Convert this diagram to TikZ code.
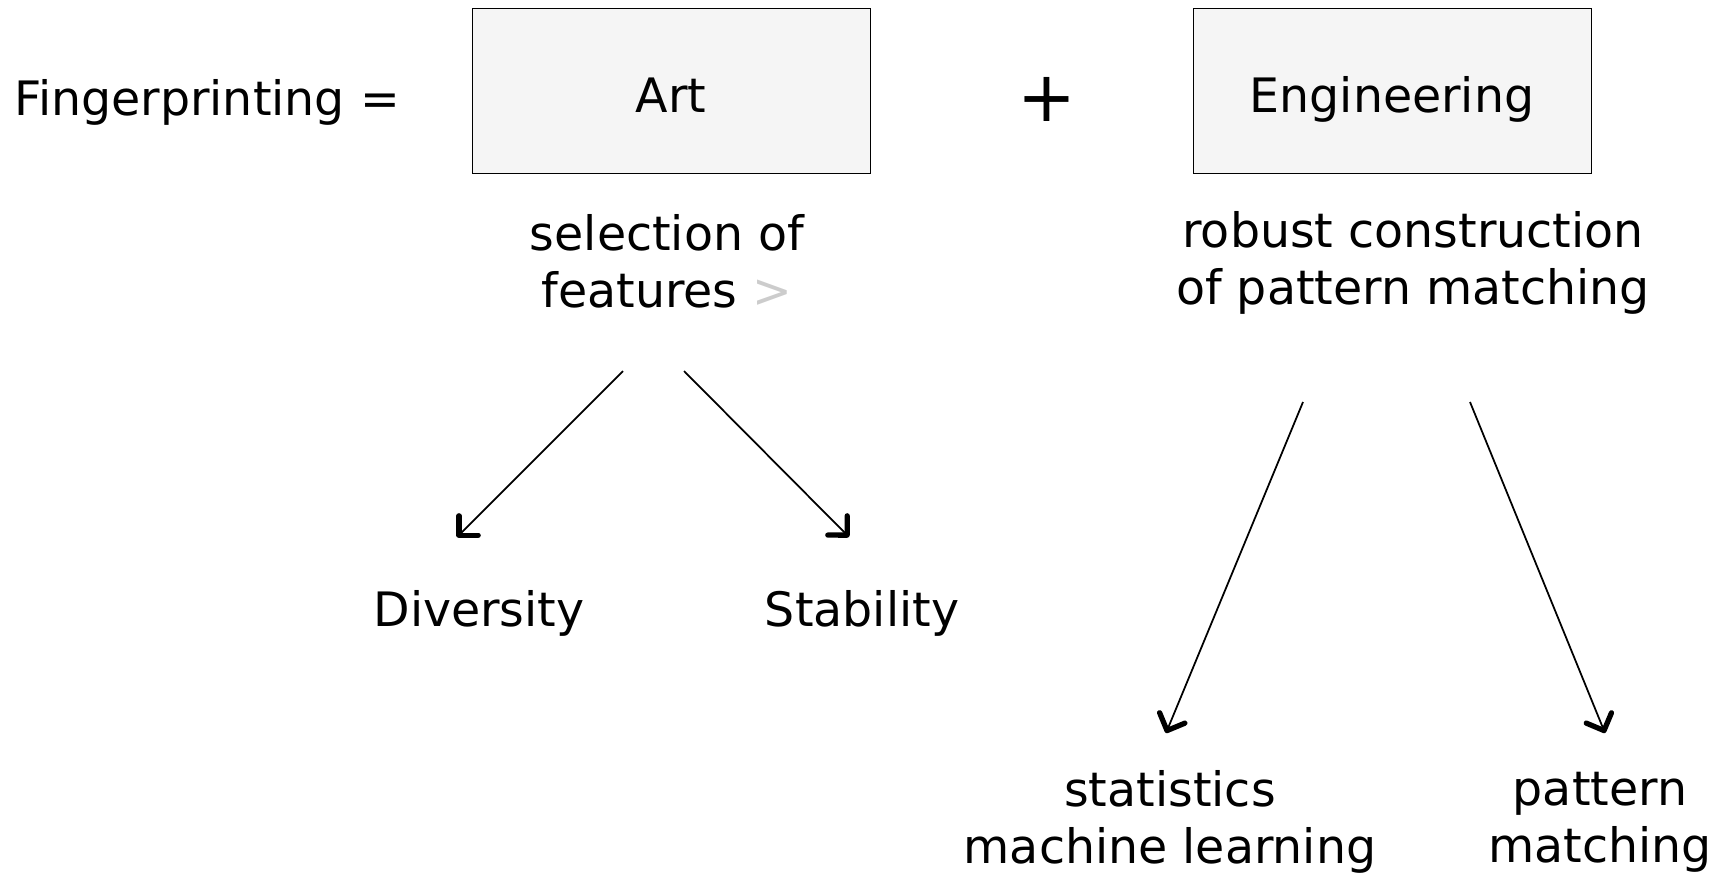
\documentclass[tikz,border=0pt]{standalone}
\usepackage{fontspec}
\setmainfont{DejaVu Sans}
\usepackage{tikz}
\usetikzlibrary{arrows.meta,positioning}

\begin{document}
\begin{tikzpicture}[
    x=0.02cm, y=-0.02cm,
    part/.style={rectangle, draw, fill=black!4, minimum width=7.96cm, minimum height=3.3cm, text height=24pt, text depth=0pt, font=\fontsize{27}{32.5}\selectfont},
    lbl/.style={align=center, font=\fontsize{27}{32.5}\selectfont},
    link/.style={line width=1pt, -{Straight Barb[angle=90:11pt, line width=3pt, round]}}
]
    \useasboundingbox (0,0) rectangle (1728,873);

    \node[lbl, anchor=west] (fp) at (8,102) {Fingerprinting =};
    \node[part] (art) at (671,91) {Art};
    \node[lbl, font=\fontsize{40}{40}\selectfont] (plus) at (1047,99) {+};
    \node[part] (eng) at (1392,91) {Engineering};

    \node[lbl] (sel) at (667,261) {selection of\\features \textcolor{black!20}{>}};
    \node[lbl] (rob) at (1413,263) {robust construction\\of pattern matching};

    \node[lbl] (div) at (479,613) {Diversity};
    \node[lbl] (stab) at (862,613) {Stability};
    \node[lbl] (stat) at (1170,822) {statistics\\machine learning};
    \node[lbl] (pat) at (1600,822) {pattern\\matching};

    \coordinate (s1) at (623,371);
    \coordinate (s2) at (684,371);
    \coordinate (e1) at (457,537);
    \coordinate (e2) at (849,537);
    \coordinate (r1) at (1303,402);
    \coordinate (r2) at (1470,402);
    \coordinate (f1) at (1166,733);
    \coordinate (f2) at (1605,733);

    \draw[link] (s1) -- (e1);
    \draw[link] (s2) -- (e2);
    \draw[link] (r1) -- (f1);
    \draw[link] (r2) -- (f2);
\end{tikzpicture}
\end{document}
